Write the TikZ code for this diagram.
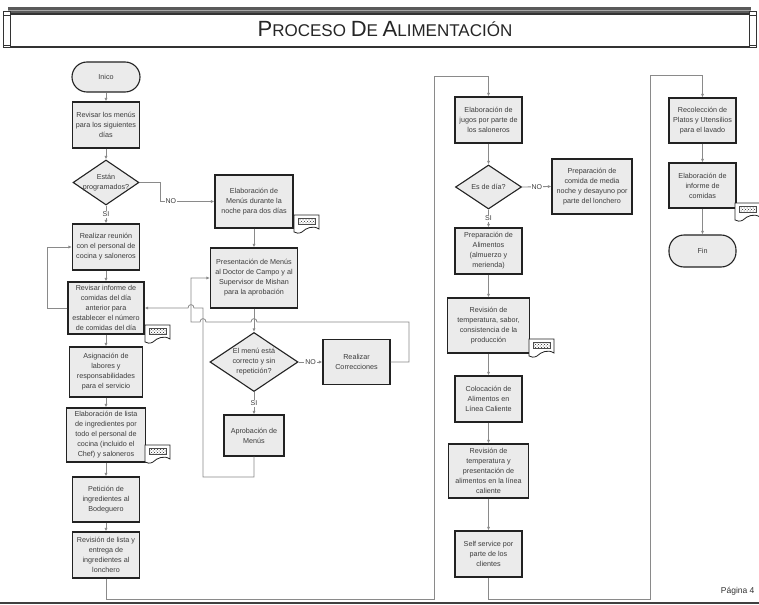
\documentclass[tikz,border=0pt]{standalone}
\usepackage{fontspec}
\setmainfont{Liberation Sans}
\usetikzlibrary{shapes.geometric,arrows.meta,patterns}

\definecolor{boxfill}{HTML}{EBEBEB}
\definecolor{boxline}{HTML}{222222}
\definecolor{wirec}{HTML}{8A8A8A}
\definecolor{ink}{HTML}{3C3C3C}
\definecolor{bandgray}{HTML}{5A5A5A}

\newcommand\ttlcap[1]{{\fontsize{22}{22}\selectfont #1}}

\tikzset{
  every node/.style={font=\fontsize{7.2}{10}\selectfont, text=ink},
  proc/.style 2 args={draw=boxline, line width=1.1pt, fill=boxfill,
    minimum width=#1pt, minimum height=#2pt, inner sep=0pt, align=center},
  term/.style 2 args={proc={#1}{#2}, rounded corners=15pt},
  dec/.style 2 args={diamond, draw=boxline, line width=1.1pt, fill=boxfill,
    minimum width=#1pt, minimum height=#2pt, inner sep=0pt},
  dectext/.style={align=center, inner sep=0pt},
  conn/.style={draw=wirec, line width=0.8pt, -{Latex[length=3.5pt,width=3pt]}},
  wire/.style={draw=wirec, line width=0.8pt},
  lbl/.style={fill=white, inner sep=1pt, font=\fontsize{7}{8}\selectfont},
  docmark/.pic={
    \draw[boxline, line width=0.8pt, fill=white]
      (0,0) -- (25,0) -- (25,14)
      .. controls (19,10) and (12,13) .. (8,17)
      .. controls (5,19) and (2,18) .. (0,17) -- cycle;
    \fill[pattern=crosshatch dots, pattern color=black!85] (4,3) rectangle (21,9);
    \draw[black!70, line width=0.4pt] (4,3) rectangle (21,9);
  }
}

\begin{document}
\begin{tikzpicture}[x=1pt, y=-1pt]
\useasboundingbox (0,0) rectangle (759,604);
\fill[white] (0,0) rectangle (759,604);

% ---------- title banner ----------
\fill[bandgray] (8,7) rectangle (751,14);
\draw[black!35, line width=0.7pt] (8,10.5) -- (751,10.5);
\draw[black!80, line width=1.2pt] (10,14) -- (749,14);
\draw[black!80, line width=1.5pt] (10,47) -- (749,47);
\draw[black!80, line width=1pt, fill=white] (3,12) rectangle (10,48);
\draw[black!80, line width=1pt, fill=white] (749,12) rectangle (756,48);
\draw[black!80, line width=0.8pt] (3,15) -- (10,15) (3,45) -- (10,45)
  (749,15) -- (756,15) (749,45) -- (756,45);
\node[font=\fontsize{17}{17}\selectfont, text=black!85] (title) at (385,29)
  {\ttlcap{P}ROCESO \ttlcap{D}E \ttlcap{A}LIMENTACIÓN};

% ---------- left column ----------
\node[term={68}{30}] (ini) at (106,77) {Inico};
\node[proc={67}{46}] (rev) at (106,125) {Revisar los menús\\para los siguientes\\días};
\node[dec={66}{45}] (d1) at (106,182.5) {};
\node[dectext] (d1t) at (d1) {Están\\programados?};
\node[proc={67}{46}] (reun) at (106,247) {Realizar reunión\\con el personal de\\cocina y saloneros};
\node[proc={76}{52}] (rinf) at (106,308) {Revisar informe de\\comidas del día\\anterior para\\establecer el número\\de comidas del día};
\node[proc={73}{50}] (asig) at (106,372) {Asignación de\\labores y\\responsabilidades\\para el servicio};
\node[proc={79}{54}] (elab) at (106,435) {Elaboración de lista\\de ingredientes por\\todo el personal de\\cocina (incluido el\\Chef) y saloneros};
\node[proc={67}{45}] (pet) at (106,499.5) {Petición de\\ingredientes al\\Bodeguero};
\node[proc={67}{46}] (rlis) at (106,555) {Revisión de lista y\\entrega de\\ingredientes al\\lonchero};

% ---------- middle column ----------
\node[proc={78}{53}] (emen) at (254,201.5) {Elaboración de\\Menús durante la\\noche para dos días};
\node[proc={87}{60}] (pres) at (254,278) {Presentación de Menús\\al Doctor de Campo y al\\Supervisor de Mishan\\para la aprobación};
\node[dec={88}{59}] (d2) at (254,362) {};
\node[dectext] (d2t) at (d2) {El menú está\\correcto y sin\\repetición?};
\node[proc={67}{45}] (corr) at (356.5,362) {Realizar\\Correcciones};
\node[proc={60}{41}] (apro) at (254,435.5) {Aprobación de\\Menús};

% ---------- right column ----------
\node[proc={67}{46}] (jug) at (488.5,120) {Elaboración de\\jugos por parte de\\los saloneros};
\node[dec={66}{44}] (d3) at (488.5,187) {};
\node[dectext] (d3t) at (d3) {Es de día?};
\node[proc={80}{55}] (prep) at (592,186.5) {Preparación de\\comida de media\\noche y desayuno por\\parte del lonchero};
\node[proc={67}{46}] (palm) at (488.5,251) {Preparación de\\Alimentos\\(almuerzo y\\merienda)};
\node[proc={82}{55}] (rtemp) at (488.5,325.5) {Revisión de\\temperatura, sabor,\\consistencia de la\\producción};
\node[proc={67}{46}] (col) at (488.5,399) {Colocación de\\Alimentos en\\Línea Caliente};
\node[proc={80}{54}] (rpres) at (488.5,471) {Revisión de\\temperatura y\\presentación de\\alimentos en la línea\\caliente};
\node[proc={67}{46}] (self) at (488.5,554) {Self service por\\parte de los\\clientes};

% ---------- far right column ----------
\node[proc={67}{45}] (reco) at (702.5,120.5) {Recolección de\\Platos y Utensilios\\para el lavado};
\node[proc={67}{45}] (info) at (702.5,185.5) {Elaboración de\\informe de\\comidas};
\node[term={67}{32}] (fin) at (702.5,251) {Fin};

% ---------- document marks ----------
\pic at (145,325) {docmark};
\pic at (294,215) {docmark};
\pic at (145,445) {docmark};
\pic at (529,339) {docmark};
\pic at (735,203) {docmark};

% ---------- connectors: left column ----------
\draw[conn] (ini) -- (rev);
\draw[conn] (rev) -- (d1);
\draw[conn] (d1.south) -- node[lbl]{SI} (reun.north);
\draw[conn] (d1.east) -| (160,201.5) -- node[lbl, pos=0.2]{NO} (emen.west);
\draw[conn] (reun) -- (rinf);
\draw[conn] (rinf.west) -- ++(-20,0) |- (reun.west);
\draw[conn] (rinf) -- (asig);
\draw[conn] (asig) -- (elab);
\draw[conn] (elab) -- (pet);
\draw[conn] (pet) -- (rlis);
\draw[conn] (rlis.south) |- (434,599) -- (434,76) -| (jug.north);

% ---------- connectors: middle column ----------
\draw[conn] (emen) -- (pres);
\draw[conn] (pres) -- (d2);
\draw[conn] (d2.east) -- node[lbl]{NO} (corr.west);
\draw[conn] (d2.south) -- node[lbl]{SI} (apro.north);
\draw[conn] (corr.east) -- (409,362) -- (409,322) -- (257,322)
  .. controls (257,317.5) and (251,317.5) .. (251,322) -- (206,322)
  .. controls (206,317.5) and (200,317.5) .. (200,322) -- (191,322)
  -- (191,278) -- (pres.west);
\draw[conn] (apro.south) -- (254,477) -- (203,477) -- (203,308) -- (194,308)
  .. controls (194,303.5) and (188,303.5) .. (188,308) -- (rinf.east);

% ---------- connectors: right columns ----------
\draw[conn] (jug) -- (d3);
\draw[conn] (d3.east) -- node[lbl]{NO} (prep.west);
\draw[conn] (d3.south) -- node[lbl]{SI} (palm.north);
\draw[conn] (palm) -- (rtemp);
\draw[conn] (rtemp) -- (col);
\draw[conn] (col) -- (rpres);
\draw[conn] (rpres) -- (self);
\draw[conn] (self.south) |- (650,599) -- (650,75) -| (reco.north);
\draw[conn] (reco) -- (info);
\draw[conn] (info) -- (fin);

% ---------- page footer ----------
\draw[black!75, line width=2pt] (0,602.5) -- (759,602.5);
\node[anchor=east, font=\fontsize{8.5}{9}\selectfont, text=black!80] (page) at (758,591) {Página 4};
\end{tikzpicture}
\end{document}
